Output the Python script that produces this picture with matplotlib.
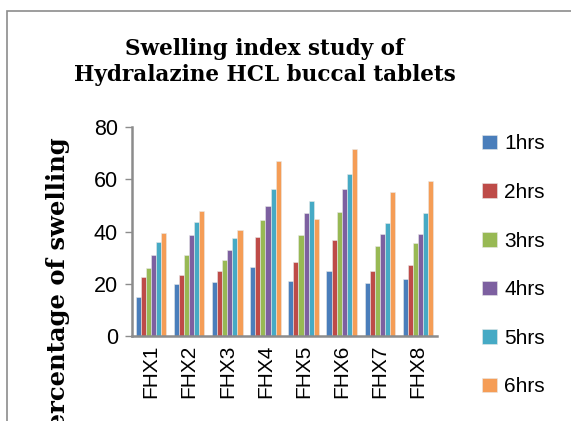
import matplotlib
matplotlib.use("Agg")
import matplotlib.pyplot as plt
from matplotlib.patches import Rectangle
import numpy as np

formulations = ["FHX1", "FHX2", "FHX3", "FHX4", "FHX5", "FHX6", "FHX7", "FHX8"]
hrs_1 = [14.9, 19.8, 20.5, 26.5, 20.9, 24.8, 20.4, 21.7]
hrs_2 = [22.6, 23.3, 24.7, 37.8, 28.4, 36.7, 25.0, 27.1]
hrs_3 = [26.0, 31.1, 29.2, 44.5, 38.5, 47.3, 34.3, 35.7]
hrs_4 = [31.1, 38.7, 33.0, 49.6, 47.1, 56.1, 39.2, 39.2]
hrs_5 = [35.9, 43.6, 37.7, 56.3, 51.7, 62.2, 43.4, 47.0]
hrs_6 = [39.6, 47.9, 40.4, 67.0, 44.9, 71.7, 55.0, 59.3]
series_labels = ["1hrs", "2hrs", "3hrs", "4hrs", "5hrs", "6hrs"]

colors = ["#4A7EBB", "#BE4B48", "#98B954", "#7D60A0", "#46AAC5", "#F59D56"]
label_font = "Liberation Sans"
title_font = "DejaVu Serif"

fig = plt.figure(figsize=(5.71, 4.21), dpi=100)
fig.patches.append(Rectangle((7 / 571, -0.1), 1.2, 1 - 11 / 421 + 0.1,
                             transform=fig.transFigure, fill=False,
                             edgecolor="#8c8c8c", linewidth=1.2))

ax = fig.add_axes([132 / 571, 1 - 336 / 421, (437 - 132) / 571, (336 - 127) / 421])

x = np.arange(len(formulations))
w = 0.8 / 6
all_series = [hrs_1, hrs_2, hrs_3, hrs_4, hrs_5, hrs_6]
handles = []
for i, vals in enumerate(all_series):
    b = ax.bar(x - 0.4 + w * (i + 0.5), vals, width=w, color=colors[i],
               edgecolor="#e8e8e8", linewidth=0.4, label=series_labels[i])
    handles.append(b)

ax.set_xlim(-0.5, len(formulations) - 0.5)
ax.set_ylim(0, 80)
ax.set_yticks([0, 20, 40, 60, 80])
ax.set_xticks(x)
ax.set_xticklabels(formulations, rotation=90, fontfamily=label_font, fontsize=15)
for t in ax.get_yticklabels():
    t.set_fontfamily(label_font)
    t.set_fontsize(15.5)
ax.tick_params(axis="x", length=0, pad=6)
ax.tick_params(axis="y", length=5, width=1, color="#8c8c8c", pad=5)

for s in ["top", "right"]:
    ax.spines[s].set_visible(False)
for s in ["left", "bottom"]:
    ax.spines[s].set_color("#8c8c8c")
    ax.spines[s].set_linewidth(1.8)

fig.text(265 / 571, 1 - 62 / 421, "Swelling index study of\nHydralazine HCL buccal tablets",
         ha="center", va="center", fontfamily=title_font, fontweight="bold",
         fontsize=15.5, linespacing=1.25)

# the reference crops this label at the bottom edge too
fig.text(58 / 571, 1 - 292 / 421, "Percentage of swelling", rotation=90,
         ha="center", va="center", fontfamily=title_font, fontweight="bold",
         fontsize=17.5)

fig.legend(handles=handles, labels=series_labels, loc="upper left",
           bbox_to_anchor=(474 / 571, 1 - 126 / 421), frameon=False,
           prop={"family": label_font, "size": 15},
           handlelength=0.7, handleheight=0.7, handletextpad=0.35,
           labelspacing=1.42, borderaxespad=0)

fig.savefig("out.png", dpi=100)
